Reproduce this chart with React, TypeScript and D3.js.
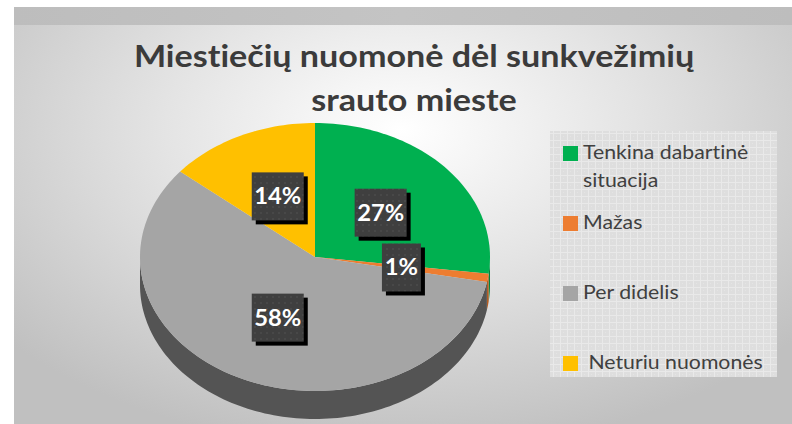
import React from "react";
import * as d3 from "d3";

const title = ["Miestiečių nuomonė dėl sunkvežimių", "srauto mieste"];
const categories = ["Tenkina dabartinė situacija", "Mažas", "Per didelis", " Neturiu nuomonės"];
const values = [27, 1, 58, 14];
const labels = ["27%", "1%", "58%", "14%"];
const topColors = ["#00b050", "#ed7d31", "#a5a5a5", "#ffc000"];
const sideColors = ["#00803a", "#b35c22", "#545454", "#bf9000"];

const W = 792;
const H = 424;
const cx = 315;
const cy = 257;
const rx = 175;
const ry = 134;
const depth = 28;

function pt(a: number, r = 1, dy = 0): [number, number] {
  return [cx + rx * r * Math.sin(a), cy - ry * r * Math.cos(a) + dy];
}

function topPath(a0: number, a1: number) {
  const n = Math.max(2, Math.ceil(((a1 - a0) / (2 * Math.PI)) * 240));
  const pts: [number, number][] = [[cx, cy]];
  for (let i = 0; i <= n; i++) pts.push(pt(a0 + ((a1 - a0) * i) / n));
  return d3.line()(pts) + "Z";
}

function sidePath(a0: number, a1: number) {
  const s = Math.max(a0, Math.PI / 2);
  const e = Math.min(a1, (3 * Math.PI) / 2);
  if (e <= s) return null;
  const n = Math.max(2, Math.ceil(((e - s) / (2 * Math.PI)) * 240));
  const upper: [number, number][] = [];
  const lower: [number, number][] = [];
  for (let i = 0; i <= n; i++) {
    const a = s + ((e - s) * i) / n;
    upper.push(pt(a));
    lower.push(pt(a, 1, depth));
  }
  return d3.line()([...upper, ...lower.reverse()]) + "Z";
}

function wrap(t: string, max = 18): string[] {
  if (t.length <= max) return [t];
  const idx = t.lastIndexOf(" ", max);
  return [t.slice(0, idx), t.slice(idx + 1)];
}

export default function App() {
  const arcs = d3
    .pie<number>()
    .sort(null)
    .startAngle(0)
    .endAngle(2 * Math.PI)(values);

  const font = "Lato, 'Open Sans', sans-serif";
  const tx = 414;
  const lgx = 583;
  const noLig = { fontVariantLigatures: "none" as const };

  return (
    <svg
      width={W}
      height={H}
      style={{ position: "absolute", left: 0, top: 0, display: "block" }}
    >
      <defs>
        <radialGradient id="bg" cx="400" cy="130" r="520" gradientUnits="userSpaceOnUse"
          gradientTransform="translate(400 130) scale(1 0.62) translate(-400 -130)">
          <stop offset="0" stopColor="#ffffff" />
          <stop offset="0.45" stopColor="#e4e4e4" />
          <stop offset="0.8" stopColor="#cdcdcd" />
          <stop offset="1" stopColor="#c0c0c0" />
        </radialGradient>
        <linearGradient id="band" x1="0" x2="1" y1="0" y2="0">
          <stop offset="0" stopColor="#bdbdbd" />
          <stop offset="0.5" stopColor="#c4c4c4" />
          <stop offset="1" stopColor="#bdbdbd" />
        </linearGradient>
        <pattern id="grid" width="7" height="7" patternUnits="userSpaceOnUse">
          <rect width="7" height="7" fill="#dedede" />
          <rect x="0" y="0" width="7" height="1" fill="#e9e9e9" />
          <rect x="0" y="0" width="1" height="7" fill="#e9e9e9" />
          <rect x="3" y="3" width="1" height="1" fill="#e4e4e4" />
        </pattern>
        <pattern id="dots" width="6" height="6" patternUnits="userSpaceOnUse">
          <rect width="6" height="6" fill="#3f3f3f" />
          <circle cx="3" cy="3" r="0.9" fill="#4c4c4c" />
        </pattern>
      </defs>

      <rect x={0} y={0} width={W} height={H} fill="#ffffff" />
      <rect x={14} y={7} width={W - 14} height={H - 7} fill="url(#bg)" />
      <rect x={14} y={7} width={W - 14} height={18} fill="url(#band)" />

      {title.map((t, i) => (
        <g key={i} transform={`translate(${tx} 0) scale(1.1 1)`}>
          <text
            x={0}
            y={67 + i * 44}
            textAnchor="middle"
            fontFamily={font}
            fontWeight={700}
            fontSize={31}
            fill="#3b3b3b"
            style={noLig}
          >
            {t}
          </text>
        </g>
      ))}

      {arcs.map((a, i) => {
        const d = sidePath(a.startAngle, a.endAngle);
        return d ? <path key={"s" + i} d={d} fill={sideColors[i]} /> : null;
      })}
      {arcs.map((a, i) => (
        <path key={"t" + i} d={topPath(a.startAngle, a.endAngle)} fill={topColors[i]} />
      ))}

      {arcs.map((a, i) => {
        const mid = (a.startAngle + a.endAngle) / 2;
        const [lx, ly] = pt(mid, 0.5);
        const bw = labels[i].length * 13 + 13;
        const bh = 48;
        return (
          <g key={"l" + i}>
            <rect x={lx - bw / 2 + 4} y={ly - bh / 2 + 4} width={bw} height={bh} fill="#000" />
            <rect x={lx - bw / 2} y={ly - bh / 2} width={bw} height={bh} fill="url(#dots)" />
            <g transform={`translate(${lx} ${ly + 8}) scale(1.08 1)`}>
              <text
                x={0}
                y={0}
                textAnchor="middle"
                fontFamily={font}
                fontWeight={700}
                fontSize={22}
                fill="#ffffff"
              >
                {labels[i]}
              </text>
            </g>
          </g>
        );
      })}

      <rect x={550} y={131} width={227} height={246} fill="url(#grid)" />
      {categories.map((c, i) => {
        const y0 = 146 + i * 70;
        return (
          <g key={"g" + i}>
            <rect x={563} y={y0} width={15} height={15} fill={topColors[i]} />
            {wrap(c).map((line, j) => (
              <g key={j} transform={`translate(${lgx} ${y0 + 13 + j * 28}) scale(1.15 1)`}>
                <text
                  x={0}
                  y={0}
                  fontFamily={font}
                  fontSize={18.5}
                  fill="#404040"
                  style={{ whiteSpace: "pre", ...noLig }}
                >
                  {line}
                </text>
              </g>
            ))}
          </g>
        );
      })}
    </svg>
  );
}
